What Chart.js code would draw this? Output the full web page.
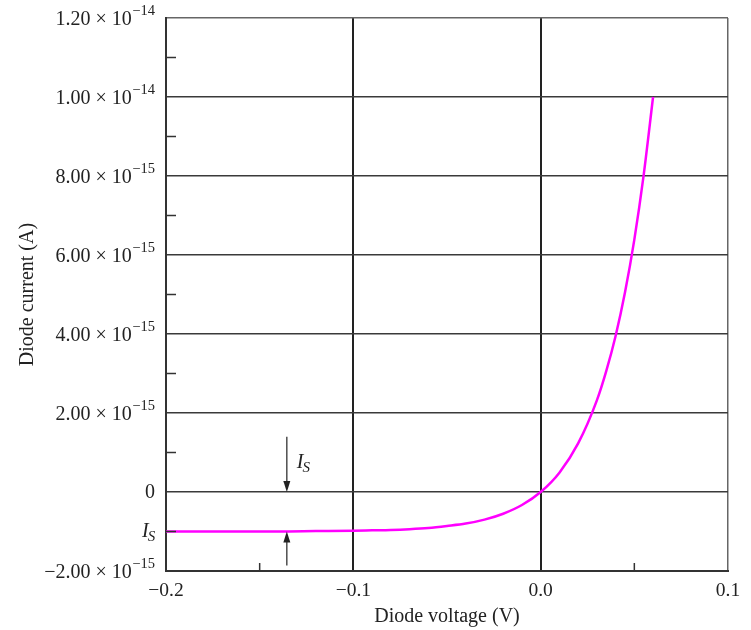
<!DOCTYPE html>
<html>
<head>
  <title>Diode current vs voltage</title>
  <script src="https://cdn.jsdelivr.net/npm/chart.js"></script>
  <style>
    body { margin: 0; background: #fff; }
  </style>
</head>
<body>
  <canvas id="myChart" width="751" height="630"></canvas>
  <script>
    // diode voltage (V) and current, current kept in units of 1e-15 A
    const voltage = [-0.2, -0.18, -0.16, -0.14, -0.12, -0.1, -0.09, -0.08, -0.07, -0.06,
      -0.05, -0.04, -0.03, -0.02, -0.01, 0, 0.01, 0.02, 0.03, 0.035, 0.04, 0.045, 0.05, 0.055, 0.06];
    const currentFemtoAmps = [-1.00, -1.00, -1.00, -1.00, -0.99, -0.98, -0.97, -0.96, -0.94, -0.91,
      -0.86, -0.80, -0.70, -0.55, -0.33, 0, 0.49, 1.23, 2.32, 3.06, 3.95, 5.05, 6.39, 8.03, 10.0];

    const xTickValues = [-0.2, -0.1, 0, 0.1];
    const xTickLabels = ['\u22120.2', '\u22120.1', '0.0', '0.1'];
    const xMinorTicks = [-0.15, 0.05];

    const yTickValues = [-2, 0, 2, 4, 6, 8, 10, 12];
    const yTickMantissas = ['\u22122.00', '0', '2.00', '4.00', '6.00', '8.00', '1.00', '1.20'];
    const yTickExponents = ['\u221215', '', '\u221215', '\u221215', '\u221215', '\u221215', '\u221214', '\u221214'];
    const yMinorTicks = [-1, 1, 3, 5, 7, 9, 11];

    // I_S markers
    const arrowVoltage = -0.1355;
    const downArrow = [1.4, 0];
    const upArrow = [-1.86, -1];
    const saturationCurrent = -1;

    const serif = '"Liberation Serif", "DejaVu Serif", serif';

    function drawArrow(ctx, x, y1, y2) {
      const dir = y2 > y1 ? 1 : -1;
      ctx.beginPath();
      ctx.moveTo(x, y1);
      ctx.lineTo(x, y2 - dir * 8);
      ctx.stroke();
      ctx.beginPath();
      ctx.moveTo(x, y2);
      ctx.lineTo(x - 3.5, y2 - dir * 11);
      ctx.lineTo(x + 3.5, y2 - dir * 11);
      ctx.closePath();
      ctx.fill();
    }

    function drawIs(ctx, x, y) {
      ctx.textAlign = 'left';
      ctx.textBaseline = 'middle';
      ctx.font = 'italic 20px ' + serif;
      ctx.fillText('I', x, y);
      const w = ctx.measureText('I').width;
      ctx.font = 'italic 15px ' + serif;
      ctx.fillText('S', x + w - 1, y + 6);
    }

    const extras = {
      id: 'extras',
      afterDraw(chart) {
        const ctx = chart.ctx;
        const xs = chart.scales.x, ys = chart.scales.y;
        const left = chart.chartArea.left, bottom = chart.chartArea.bottom;
        ctx.save();
        ctx.fillStyle = '#222';
        ctx.strokeStyle = '#333';
        ctx.lineWidth = 1.5;

        // minor ticks
        yMinorTicks.forEach(v => {
          const y = ys.getPixelForValue(v);
          ctx.beginPath(); ctx.moveTo(left, y); ctx.lineTo(left + 10, y); ctx.stroke();
        });
        xMinorTicks.forEach(v => {
          const x = xs.getPixelForValue(v);
          ctx.beginPath(); ctx.moveTo(x, bottom); ctx.lineTo(x, bottom - 8); ctx.stroke();
        });

        // y tick labels with exponent
        yTickValues.forEach((v, i) => {
          const y = ys.getPixelForValue(v);
          const right = left - 11;
          const exp = yTickExponents[i];
          ctx.textBaseline = 'middle';
          ctx.textAlign = 'right';
          if (!exp) {
            ctx.font = '20px ' + serif;
            ctx.fillText(yTickMantissas[i], right, y + 1);
            return;
          }
          ctx.font = '14.5px ' + serif;
          const ew = ctx.measureText(exp).width;
          ctx.fillText(exp, right, y - 7);
          ctx.font = '20px ' + serif;
          ctx.fillText(yTickMantissas[i] + ' \u00d7 10', right - ew - 0.5, y + 1.5);
        });

        // I_S label on the axis
        drawIs(ctx, left - 24, ys.getPixelForValue(saturationCurrent));

        // arrows marking I_S
        ctx.lineWidth = 1.3;
        const ax = xs.getPixelForValue(arrowVoltage);
        drawArrow(ctx, ax, ys.getPixelForValue(downArrow[0]), ys.getPixelForValue(downArrow[1]));
        drawArrow(ctx, ax, ys.getPixelForValue(upArrow[0]), ys.getPixelForValue(upArrow[1]));
        drawIs(ctx, ax + 10, ys.getPixelForValue(0.75));
        ctx.restore();
      }
    };

    const ctx = document.getElementById('myChart').getContext('2d');
    new Chart(ctx, {
      type: 'scatter',
      data: {
        datasets: [{
          data: voltage.map((v, i) => ({ x: v, y: currentFemtoAmps[i] })),
          showLine: true,
          borderColor: '#ff00ff',
          borderWidth: 2.5,
          pointRadius: 0,
          cubicInterpolationMode: 'monotone'
        }]
      },
      options: {
        responsive: false,
        animation: false,
        devicePixelRatio: 1,
        layout: { padding: { top: 18, right: 23, left: 0, bottom: 0 } },
        plugins: { legend: { display: false }, tooltip: { enabled: false } },
        scales: {
          x: {
            type: 'linear',
            min: -0.2,
            max: 0.1,
            afterBuildTicks: s => { s.ticks = xTickValues.map(v => ({ value: v })); },
            afterFit: s => { s.height = 59; },
            ticks: {
              color: '#222',
              padding: 8,
              maxRotation: 0,
              font: { family: serif, size: 19.5 },
              callback: (v, i) => xTickLabels[i]
            },
            grid: {
              drawTicks: false,
              color: c => c.tick && c.tick.value === 0.1 ? '#666' : '#222',
              lineWidth: c => c.tick && c.tick.value === 0.1 ? 1.5 : 2
            },
            border: { color: '#333', width: 2 },
            title: {
              display: true,
              text: 'Diode voltage (V)',
              color: '#222',
              font: { family: serif, size: 20 },
              padding: { top: 0, bottom: 1 }
            }
          },
          y: {
            type: 'linear',
            min: -2,
            max: 12,
            afterBuildTicks: s => { s.ticks = yTickValues.map(v => ({ value: v })); },
            afterFit: s => { s.width = 166; },
            ticks: { display: false },
            grid: {
              drawTicks: false,
              color: c => c.tick && c.tick.value === 12 ? '#666' : '#3a3a3a',
              lineWidth: 1.4
            },
            border: { color: '#333', width: 2 },
            title: {
              display: true,
              text: 'Diode current (A)',
              color: '#222',
              font: { family: serif, size: 20 },
              padding: { top: 16, bottom: 0 }
            }
          }
        }
      },
      plugins: [extras]
    });
  </script>
</body>
</html>
